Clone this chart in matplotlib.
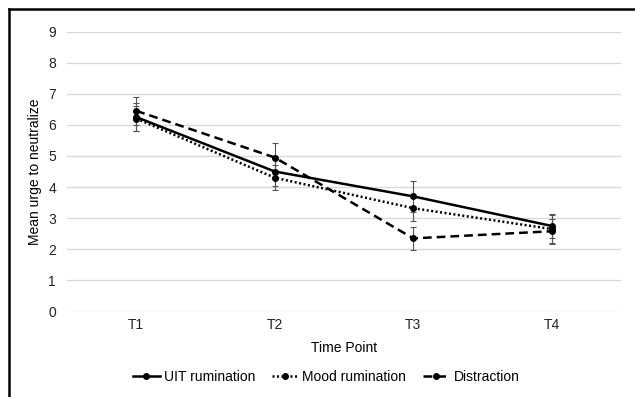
import matplotlib.pyplot as plt
from matplotlib.lines import Line2D

plt.rcParams['font.family'] = ['Liberation Sans', 'DejaVu Sans']

time_points = ['T1', 'T2', 'T3', 'T4']

uit_mean = [6.25, 4.5, 3.7, 2.75]
uit_err = [0.45, 0.45, 0.5, 0.4]

mood_mean = [6.2, 4.3, 3.32, 2.65]
mood_err = [0.4, 0.4, 0.4, 0.45]

distr_mean = [6.45, 4.95, 2.35, 2.58]
distr_err = [0.45, 0.47, 0.38, 0.4]

series = [
    ('UIT rumination', uit_mean, uit_err, '-'),
    ('Mood rumination', mood_mean, mood_err, (0, (0.8, 1.0))),
    ('Distraction', distr_mean, distr_err, (0, (3.5, 2))),
]

fig = plt.figure(figsize=(6.35, 3.97), dpi=100)
ax = fig.add_axes([67 / 635, 1 - 311.5 / 397, 554 / 635, 280 / 397])

x = range(len(time_points))
for name, mean, err, ls in series:
    ax.errorbar(x, mean, yerr=err, fmt='none', ecolor='#555555',
                elinewidth=0.8, capsize=2.5, capthick=0.8, zorder=2)
    ax.plot(x, mean, linestyle=ls, color='black', linewidth=1.8,
            marker='o', markersize=4, label=name, zorder=3)

ax.set_xlim(-0.5, len(time_points) - 0.5)
ax.set_ylim(0, 9)
ax.set_yticks(range(0, 10))
ax.set_xticks(list(x))
ax.set_xticklabels(time_points)
ax.grid(axis='y', color='#d9d9d9', linewidth=1)
ax.set_axisbelow(True)
for s in ax.spines.values():
    s.set_visible(False)
ax.tick_params(length=0, labelsize=10, colors='#222222')
ax.tick_params(axis='y', pad=8)
ax.tick_params(axis='x', pad=5)

ax.set_ylabel('Mean urge to neutralize', fontsize=10, labelpad=4)
ax.set_xlabel('Time Point', fontsize=10, labelpad=6)

ax.legend(loc='center', bbox_to_anchor=(0.468, -0.235), ncol=3, frameon=False,
          fontsize=10, handlelength=1.9, columnspacing=1.2, handletextpad=0.3)

# frame around the figure (left and top edges visible)
fig.add_artist(Line2D([8.5 / 635, 8.5 / 635], [0, 1 - 8.5 / 397], color='black', linewidth=1.8))
fig.add_artist(Line2D([8.5 / 635, 1], [1 - 8.5 / 397, 1 - 8.5 / 397], color='black', linewidth=1.8))

fig.savefig('out.png', dpi=100)
